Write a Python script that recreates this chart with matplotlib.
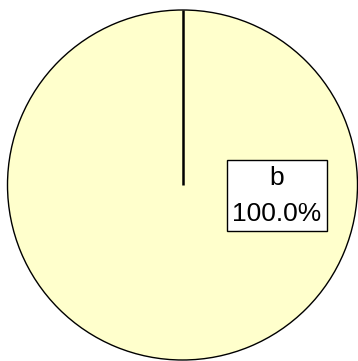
import matplotlib
matplotlib.use("Agg")
import matplotlib.pyplot as plt
import numpy as np

labels = ["b"]
values = [100.0]
colors = ["#FFFFCC"]

W, H = 358, 361
fig = plt.figure(figsize=(W / 100, H / 100), dpi=100)
ax = fig.add_axes([0, 0, 1, 1])
R = 175.0
cx, cy = 182.5, 361 - 185

startangle = 90
wedges, _ = ax.pie(values, colors=colors, startangle=startangle, counterclock=False,
                   radius=1.0, center=(0, 0), frame=True,
                   wedgeprops=dict(edgecolor="black", linewidth=1.0))
ax.set_xlim(-cx / R, (W - cx) / R)
ax.set_ylim(-cy / R, (H - cy) / R)
ax.set_aspect("auto")
ax.axis("off")

th = np.deg2rad(startangle)
ax.plot([0, np.cos(th)], [0, np.sin(th)], color="black", linewidth=1.8, solid_capstyle="butt")

total = sum(values)
for lab, v in zip(labels, values):
    ax.text(0.54, -0.062, f"{lab}\n{v / total * 100:.1f}%", ha="center", va="center",
            fontsize=19, family="Liberation Sans", linespacing=1.65,
            bbox=dict(boxstyle="square,pad=0.2", facecolor="white", edgecolor="black", linewidth=1.0))

fig.savefig("out.png", dpi=100)
